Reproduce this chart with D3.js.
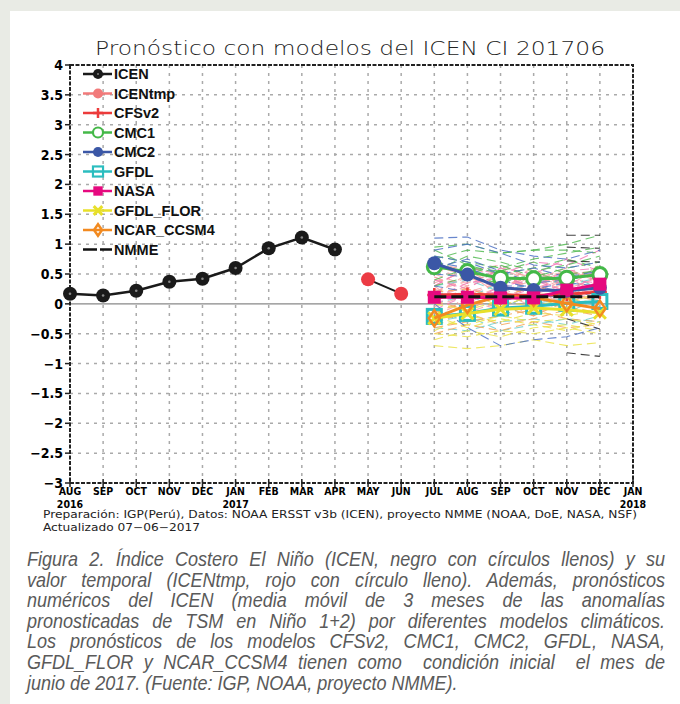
<!DOCTYPE html>
<html>
<head>
<meta charset="utf-8">
<script src="https://cdn.jsdelivr.net/npm/d3@7"></script>
<style>
  body { margin: 0; background: #e9ebe5; }
  svg { display: block; }
</style>
</head>
<body>
<svg id="chart" width="680" height="704"></svg>
<script>
// ---- data ----
const monthLabels = ["AUG","SEP","OCT","NOV","DEC","JAN","FEB","MAR","APR","MAY","JUN","JUL","AUG","SEP","OCT","NOV","DEC","JAN"]
const yearLabels = [[0, "2016"], [5, "2017"], [17, "2018"]]
const yTicks = [4, 3.5, 3, 2.5, 2, 1.5, 1, 0.5, 0, -0.5, -1, -1.5, -2, -2.5, -3]

const icen = [0.17, 0.14, 0.22, 0.37, 0.42, 0.60, 0.93, 1.11, 0.91]       // AUG 2016 - APR 2017
const icenTmp = [0.41, 0.17]                                              // MAY, JUN 2017
const fcMonths = [11, 12, 13, 14, 15, 16]                                 // JUL - DEC 2017

const cfsv2 = [0.15, 0.16, 0.15, 0.14, 0.16, 0.20]
const cmc1 = [0.62, 0.54, 0.43, 0.42, 0.43, 0.49]
const cmc2 = [0.68, 0.49, 0.27, 0.23, 0.22, 0.27]
const gfdl = [-0.21, -0.16, -0.07, -0.04, 0.01, 0.04]
const nasa = [0.11, 0.11, 0.10, 0.10, 0.23, 0.33]
const gfdlFlor = [-0.24, -0.16, -0.09, -0.07, -0.10, -0.15]
const ncar = [-0.24, -0.02, 0.13, 0.10, 0.01, -0.08]
const nmme = [0.12, 0.12, 0.12, 0.12, 0.12, 0.12]

// ensemble members (JUL - DEC)
const cfsv2Members = [
  [0.35,0.55,0.30,0.45,0.20,0.50],[0.50,0.30,0.60,0.35,0.55,0.40],[0.20,0.45,0.25,0.55,0.30,0.60],
  [0.60,0.40,0.50,0.25,0.45,0.30],[0.10,0.30,0.45,0.20,0.40,0.25],[0.45,0.20,0.35,0.60,0.25,0.45],
  [0.30,0.60,0.20,0.40,0.60,0.35],[0.05,0.25,0.10,0.30,0.15,0.35],[0.55,0.65,0.40,0.30,0.50,0.55],
  [0.25,0.05,0.30,0.15,0.35,0.10],[0.40,0.35,0.55,0.45,0.30,0.20],[-0.05,0.15,0.35,0.10,0.20,0.05],
  [0.15,0.50,0.15,0.50,0.10,0.40],[0.65,0.45,0.25,0.50,0.35,0.65],[-0.20,0.05,-0.10,0.20,0.00,0.25],
  [0.30,-0.10,0.20,-0.05,0.25,0.15],[0.70,0.55,0.65,0.40,0.55,0.45],[-0.30,-0.15,0.05,-0.20,0.10,-0.05],
  [0.45,0.25,0.15,0.35,0.05,0.30],[0.20,0.40,0.50,0.20,0.45,0.15]
]
const cmc1Members = [
  [0.75,0.90,0.85,0.90,1.00,1.15],[0.80,0.70,0.60,0.75,0.85,0.95],[0.55,0.80,0.70,0.55,0.65,0.80],
  [0.90,0.65,0.50,0.60,0.75,0.60],[0.40,0.60,0.55,0.70,0.50,0.55],[0.70,0.50,0.65,0.45,0.60,0.70],
  [0.30,0.45,0.35,0.50,0.40,0.60],[0.95,1.00,0.85,0.90,0.90,0.85]
]
const cmc2Members = [
  [1.10,1.12,0.90,0.80,0.75,0.90],[0.90,1.00,0.85,0.65,0.60,0.70],[0.80,0.70,0.50,0.60,0.45,0.55],
  [0.60,0.75,0.55,0.35,0.40,0.50],[0.50,0.45,0.30,0.30,0.20,0.35],[0.00,-0.40,-0.70,-0.60,-0.55,-0.40],
  [0.30,0.20,0.05,0.15,0.10,0.20],[0.70,0.60,0.40,0.25,0.35,0.30]
]
const gfdlMembers = [
  [0.20,0.10,0.35,0.50,0.30,0.45],[-0.10,-0.30,-0.20,0.00,0.10,-0.05],[-0.40,-0.45,-0.30,-0.25,-0.35,-0.20],
  [0.00,0.15,-0.10,0.20,-0.15,0.10],[-0.30,-0.20,-0.45,-0.35,-0.25,-0.30],[0.30,0.40,0.20,0.35,0.50,0.25]
]
const nasaMembers = [
  [0.30,0.60,0.50,0.70,0.65,0.90],[0.10,0.35,0.45,0.30,0.55,0.60],[0.00,0.20,0.10,0.25,0.40,0.35],
  [0.20,0.00,0.30,0.40,0.20,0.50],[-0.10,0.15,0.20,0.05,0.30,0.15],[0.40,0.25,0.60,0.50,0.75,0.55]
]
const gfdlFlorMembers = [
  [-0.70,-0.75,-0.70,-0.60,-0.70,-0.65],[-0.50,-0.55,-0.45,-0.50,-0.40,-0.50],[-0.30,-0.35,-0.20,-0.30,-0.25,-0.35],
  [-0.45,-0.20,-0.30,-0.15,-0.20,-0.10],[-0.20,-0.40,-0.25,-0.35,-0.45,-0.30],[0.00,-0.10,0.05,-0.05,0.10,0.00],
  [-0.60,-0.45,-0.55,-0.40,-0.35,-0.45],[0.10,0.20,-0.05,0.15,0.00,0.20]
]
const ncarMembers = [
  [-0.40,-0.30,-0.20,-0.10,-0.25,-0.30],[0.05,-0.10,0.15,0.00,-0.05,-0.15],[-0.30,-0.15,-0.35,-0.25,-0.10,-0.20],
  [0.20,0.25,0.10,0.30,0.15,0.05],[-0.15,0.05,-0.05,-0.20,0.05,-0.10],[-0.50,-0.35,-0.45,-0.30,-0.40,-0.35]
]
const nmmeMembers = [
  [null,null,null,null,1.15,1.15],[null,null,null,null,0.95,0.93],[null,null,null,null,0.72,0.70],
  [null,null,null,null,-0.25,-0.42],[null,null,null,null,-0.82,-0.88]
]

// ---- layout ----
const svg = d3.select("#chart")
svg.append("rect").attr("x", 10).attr("y", 11).attr("width", 670).attr("height", 693).attr("fill", "#fff")

const x = d3.scaleLinear().domain([0, 17]).range([70, 633])
const y = d3.scaleLinear().domain([-3, 4]).range([483, 65])

const condensed = "'DejaVu Sans Condensed', 'Liberation Sans Narrow', Arial, sans-serif"

// title
svg.append("text")
  .attr("x", 95).attr("y", 55)
  .attr("textLength", 510).attr("lengthAdjust", "spacingAndGlyphs")
  .style("font-family", "'DejaVu Sans', sans-serif").style("font-weight", 200)
  .style("font-size", "19px").attr("fill", "#222")
  .text("Pronóstico con modelos del ICEN CI 201706")

// grid
const grid = svg.append("g")
grid.selectAll(".vgrid").data(d3.range(1, 17)).enter().append("line")
  .attr("x1", d => x(d)).attr("x2", d => x(d)).attr("y1", y(4)).attr("y2", y(-3))
  .attr("stroke", "#aaa").attr("stroke-width", 1.5).attr("stroke-dasharray", "3,5")
grid.selectAll(".hgrid").data(yTicks.filter(d => d !== 0 && d !== 4 && d !== -3)).enter().append("line")
  .attr("x1", x(0)).attr("x2", x(17)).attr("y1", d => y(d)).attr("y2", d => y(d))
  .attr("stroke", "#aaa").attr("stroke-width", 1.5).attr("stroke-dasharray", "3,5")
grid.append("line")
  .attr("x1", x(0)).attr("x2", x(17)).attr("y1", y(0)).attr("y2", y(0))
  .attr("stroke", "#888").attr("stroke-width", 1.3)

// frame
svg.append("rect")
  .attr("x", x(0)).attr("y", y(4)).attr("width", x(17) - x(0)).attr("height", y(-3) - y(4))
  .attr("fill", "none").attr("stroke", "#222").attr("stroke-width", 2).attr("stroke-dasharray", "4,1.5")

// y axis
const yAxis = svg.append("g")
yAxis.selectAll("line").data(yTicks).enter().append("line")
  .attr("x1", x(0) - 5).attr("x2", x(0)).attr("y1", d => y(d)).attr("y2", d => y(d))
  .attr("stroke", "#222").attr("stroke-width", 1.5)
yAxis.selectAll("text").data(yTicks).enter().append("text")
  .attr("x", x(0) - 7).attr("y", d => y(d) + 5)
  .attr("text-anchor", "end")
  .style("font-family", condensed).style("font-weight", "bold").style("font-size", "14px")
  .text(d => d < 0 ? "\u2212" + Math.abs(d) : d)

// x axis
const xAxis = svg.append("g")
xAxis.selectAll("line").data(monthLabels).enter().append("line")
  .attr("x1", (d, i) => x(i)).attr("x2", (d, i) => x(i)).attr("y1", y(-3) - 4).attr("y2", y(-3) + 4)
  .attr("stroke", "#222").attr("stroke-width", 1.5)
xAxis.selectAll(".mlab").data(monthLabels).enter().append("text")
  .attr("x", (d, i) => x(i)).attr("y", 495)
  .attr("text-anchor", "middle")
  .style("font-family", condensed).style("font-weight", "bold").style("font-size", "10.5px")
  .text(d => d)
xAxis.selectAll(".ylab").data(yearLabels).enter().append("text")
  .attr("x", d => x(d[0])).attr("y", 508)
  .attr("text-anchor", "middle")
  .style("font-family", condensed).style("font-weight", "bold").style("font-size", "10.5px")
  .text(d => d[1])

// ---- series ----
const plot = svg.append("g")
const line = d3.line().defined(d => d[1] !== null).x(d => x(d[0])).y(d => y(d[1]))
const fc = vals => vals.map((v, i) => [fcMonths[i], v])

function members(list, color) {
  plot.append("g").selectAll("path").data(list).enter().append("path")
    .attr("d", d => line(fc(d)))
    .attr("fill", "none").attr("stroke", color).attr("stroke-width", 1.1)
    .attr("stroke-dasharray", "9,5").attr("opacity", 0.85)
}
members(cfsv2Members, "#f6a3a3")
members(gfdlMembers, "#6fcfcf")
members(nasaMembers, "#f27ab8")
members(ncarMembers, "#f6a65a")
members(gfdlFlorMembers, "#ebe34a")
members(cmc1Members, "#55bb55")
members(cmc2Members, "#4f72c4")
members(nmmeMembers, "#222")

function marker(g, type, cx, cy, color, k) {
  k = k || 1
  if (type === "dot") {
    g.append("circle").attr("cx", cx).attr("cy", cy).attr("r", 7 * k).attr("fill", color)
  } else if (type === "icen") {
    g.append("circle").attr("cx", cx).attr("cy", cy).attr("r", 7 * k).attr("fill", "#1a1a1a")
    g.append("circle").attr("cx", cx).attr("cy", cy).attr("r", 1.3 * k).attr("fill", "#888")
  } else if (type === "ring") {
    g.append("circle").attr("cx", cx).attr("cy", cy).attr("r", 7 * k).attr("fill", "#fff")
      .attr("stroke", color).attr("stroke-width", 3 * k)
  } else if (type === "openSquare") {
    g.append("rect").attr("x", cx - 7 * k).attr("y", cy - 7 * k).attr("width", 14 * k).attr("height", 14 * k)
      .attr("fill", "none").attr("stroke", color).attr("stroke-width", 3 * k)
  } else if (type === "square") {
    g.append("rect").attr("x", cx - 6.5 * k).attr("y", cy - 6.5 * k).attr("width", 13 * k).attr("height", 13 * k).attr("fill", color)
  } else if (type === "diamond") {
    g.append("path").attr("d", `M${cx},${cy - 8 * k}L${cx + 5.5 * k},${cy}L${cx},${cy + 8 * k}L${cx - 5.5 * k},${cy}Z`)
      .attr("fill", "none").attr("stroke", color).attr("stroke-width", 2.5)
  } else if (type === "cross") {
    g.append("path").attr("d", `M${cx - 6 * k},${cy - 6 * k}L${cx + 6 * k},${cy + 6 * k}M${cx + 6 * k},${cy - 6 * k}L${cx - 6 * k},${cy + 6 * k}`)
      .attr("stroke", color).attr("stroke-width", 3)
  } else if (type === "plus") {
    g.append("path").attr("d", `M${cx - 7 * k},${cy}L${cx + 7 * k},${cy}M${cx},${cy - 7 * k}L${cx},${cy + 7 * k}`)
      .attr("stroke", color).attr("stroke-width", 2.5)
  }
}

function model(vals, color, type, dash) {
  const g = plot.append("g")
  g.append("path").attr("d", line(fc(vals)))
    .attr("fill", "none").attr("stroke", color).attr("stroke-width", 3)
    .attr("stroke-dasharray", dash || null)
  if (type) fc(vals).forEach(d => marker(g, type, x(d[0]), y(d[1]), color))
}

const colors = {
  cfsv2: "#ec3b3b", cmc1: "#44b848", cmc2: "#3b57a6", gfdl: "#2bbdbf",
  nasa: "#e6097f", gfdlFlor: "#e8e02a", ncar: "#f28a20", nmme: "#111"
}
model(cfsv2, colors.cfsv2, "plus")
model(gfdl, colors.gfdl, "openSquare")
model(gfdlFlor, colors.gfdlFlor, "cross")
model(ncar, colors.ncar, "diamond")
model(cmc1, colors.cmc1, "ring")
model(cmc2, colors.cmc2, "dot")
model(nasa, colors.nasa, "square")
model(nmme, colors.nmme, null, "12,5")

// observed ICEN
const icenPts = icen.map((v, i) => [i, v])
plot.append("path").attr("d", line(icenPts)).attr("fill", "none").attr("stroke", "#1a1a1a").attr("stroke-width", 2.5)
icenPts.forEach(d => marker(plot, "icen", x(d[0]), y(d[1])))
const tmpPts = icenTmp.map((v, i) => [9 + i, v])
plot.append("path").attr("d", line(tmpPts)).attr("fill", "none").attr("stroke", "#1a1a1a").attr("stroke-width", 2)
tmpPts.forEach(d => marker(plot, "dot", x(d[0]), y(d[1]), "#ec3b44"))

// ---- legend ----
const legendItems = [
  ["ICEN", "#1a1a1a", "icen", null],
  ["ICENtmp", "#f27a7a", "dot", null],
  ["CFSv2", colors.cfsv2, "plus", null],
  ["CMC1", colors.cmc1, "ring", null],
  ["CMC2", colors.cmc2, "dot", null],
  ["GFDL", colors.gfdl, "openSquare", null],
  ["NASA", colors.nasa, "square", null],
  ["GFDL_FLOR", colors.gfdlFlor, "cross", null],
  ["NCAR_CCSM4", colors.ncar, "diamond", null],
  ["NMME", colors.nmme, null, "14,3"]
]
const legend = svg.append("g")
legendItems.forEach((d, i) => {
  const ly = 74 + i * 19.5
  const g = legend.append("g")
  g.append("line").attr("x1", 83).attr("x2", 112).attr("y1", ly).attr("y2", ly)
    .attr("stroke", d[1]).attr("stroke-width", 2.5).attr("stroke-dasharray", d[3])
  if (d[2]) marker(g, d[2], 98, ly, d[1], 0.72)
  g.append("text").attr("x", 114).attr("y", ly + 5)
    .style("font-family", "'Liberation Sans', Arial, sans-serif").style("font-weight", "bold").style("font-size", "14.5px")
    .attr("fill", "#111").text(d[0])
})

// ---- footer ----
const mono = "'DejaVu Sans', sans-serif"
svg.append("text").attr("x", 43).attr("y", 518)
  .attr("textLength", 594).attr("lengthAdjust", "spacingAndGlyphs")
  .style("font-family", mono).style("font-size", "10px").attr("fill", "#222")
  .text("Preparación: IGP(Perú), Datos: NOAA ERSST v3b (ICEN), proyecto  NMME  (NOAA, DoE, NASA, NSF)")
svg.append("text").attr("x", 43).attr("y", 531)
  .attr("textLength", 157).attr("lengthAdjust", "spacingAndGlyphs")
  .style("font-family", mono).style("font-size", "10px").attr("fill", "#222")
  .text("Actualizado 07\u221206\u22122017")

// ---- caption (narrowed Liberation Sans italic, justified) ----
const captionLines = [
  "Figura 2. Índice Costero El Niño (ICEN, negro con círculos llenos) y su",
  "valor temporal (ICENtmp, rojo con círculo lleno). Además, pronósticos",
  "numéricos del ICEN (media móvil de 3 meses de las anomalías",
  "pronosticadas de TSM en Niño 1+2) por diferentes modelos climáticos.",
  "Los pronósticos de los modelos CFSv2, CMC1, CMC2, GFDL, NASA,",
  "GFDL_FLOR y NCAR_CCSM4 tienen como  condición inicial  el mes de",
  "junio de 2017. (Fuente: IGP, NOAA, proyecto NMME)."
]
const narrow = 0.88
const cap = svg.append("g")
captionLines.forEach((t, i) => {
  const txt = cap.append("text")
    .attr("transform", `translate(27,${566 + i * 20.6}) scale(${narrow},1)`)
    .style("font-family", "'Liberation Sans', Arial, sans-serif")
    .style("font-style", "italic").style("font-size", "20.5px").attr("fill", "#5a5a5a")
    .style("white-space", "pre")
    .text(t)
  const w = txt.node().getComputedTextLength()
  if (i < captionLines.length - 1) {
    const spaces = (t.match(/ /g) || []).length
    const target = (665 - 27) / narrow
    if (w > target) {
      txt.attr("textLength", target).attr("lengthAdjust", "spacingAndGlyphs")
    } else {
      txt.style("word-spacing", ((target - w) / spaces) + "px")
    }
  } else {
    const target = (497 - 27) / narrow
    if (w > target) txt.attr("textLength", target).attr("lengthAdjust", "spacingAndGlyphs")
  }
})
</script>
</body>
</html>
